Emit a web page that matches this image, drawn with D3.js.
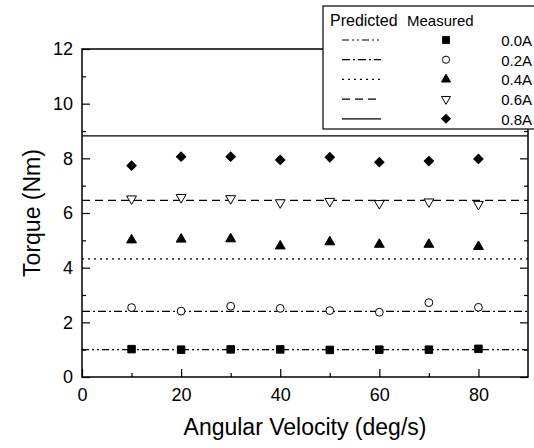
<!DOCTYPE html>
<html>
<head>
<meta charset="utf-8">
<script src="https://cdn.jsdelivr.net/npm/d3@7"></script>
<style>
  body { margin: 0; background: #fff; }
  text { font-family: "Liberation Sans", Arial, sans-serif; fill: #000; }
</style>
</head>
<body>
<div id="chart"></div>
<script>
var velocity = [10, 20, 30, 40, 50, 60, 70, 80]
var currents = ['0.0A', '0.2A', '0.4A', '0.6A', '0.8A']
var predicted = [1.0, 2.4, 4.32, 6.46, 8.82]
var measured00 = [1.02, 1.0, 1.01, 1.01, 0.99, 1.0, 1.0, 1.03]
var measured02 = [2.54, 2.41, 2.59, 2.51, 2.43, 2.37, 2.72, 2.55]
var measured04 = [5.01, 5.04, 5.05, 4.79, 4.94, 4.85, 4.85, 4.77]
var measured06 = [6.52, 6.57, 6.53, 6.38, 6.43, 6.35, 6.41, 6.32]
var measured08 = [7.73, 8.06, 8.06, 7.94, 8.04, 7.86, 7.90, 7.98]
var measured = [measured00, measured02, measured04, measured06, measured08]
var xTicks = [0, 20, 40, 60, 80]
var yTicks = [0, 2, 4, 6, 8, 10, 12]

var dashes = ['7 3 2 3 2 3', '8 3 2 3', '2 4', '8 5', null]
var marks = [
  {type: d3.symbolSquare, size: 56, rot: 0, fill: '#000'},
  {type: d3.symbolCircle, size: 48, rot: 0, fill: '#fff'},
  {type: d3.symbolTriangle, size: 42, rot: 0, fill: '#000'},
  {type: d3.symbolTriangle, size: 42, rot: 180, fill: '#fff'},
  {type: d3.symbolSquare, size: 44, rot: 45, fill: '#000'},
]

var W = 534, H = 448
var m = {left: 82, right: 6, top: 49, bottom: 71}
var width = W - m.left - m.right, height = H - m.top - m.bottom

var svg = d3.select('#chart').append('svg').attr('width', W).attr('height', H)
var g = svg.append('g').attr('transform', `translate(${m.left},${m.top})`)

var x = d3.scaleLinear().domain([0, 90]).range([0, width])
var y = d3.scaleLinear().domain([0, 12]).range([height, 0])

// predicted lines
g.selectAll('line.pred').data(predicted).join('line')
  .attr('x1', 0).attr('x2', width)
  .attr('y1', d => y(d)).attr('y2', d => y(d))
  .attr('stroke', '#000').attr('stroke-width', 1.2)
  .attr('stroke-dasharray', (d, i) => dashes[i])

// measured points
measured.forEach((series, i) => {
  var mk = marks[i]
  g.selectAll(null).data(series).join('path')
    .attr('d', d3.symbol(mk.type, mk.size))
    .attr('transform', (d, j) => `translate(${x(velocity[j])},${y(d)}) rotate(${mk.rot})`)
    .attr('fill', mk.fill).attr('stroke', '#000').attr('stroke-width', 1)
})

// axes, ticks inward
g.append('g').attr('transform', `translate(0,${height})`)
  .call(d3.axisBottom(x).tickValues(xTicks).tickSize(-8).tickPadding(11).tickFormat(d3.format('d')))
g.append('g').attr('transform', `translate(0,${height})`)
  .call(d3.axisBottom(x).tickValues(d3.range(10, 90, 20)).tickSize(-4).tickFormat(''))
g.append('g')
  .call(d3.axisLeft(y).tickValues(yTicks).tickSize(-8).tickPadding(9))
g.append('g')
  .call(d3.axisLeft(y).tickValues(d3.range(1, 12, 2)).tickSize(-4).tickFormat(''))
g.append('g').attr('transform', `translate(${width},0)`)
  .call(d3.axisRight(y).tickValues(yTicks).tickSize(-8).tickFormat(''))
g.append('g').attr('transform', `translate(${width},0)`)
  .call(d3.axisRight(y).tickValues(d3.range(1, 12, 2)).tickSize(-4).tickFormat(''))

g.selectAll('.domain').remove()
g.selectAll('.tick line').attr('stroke', '#000').attr('stroke-width', 1.2)
g.selectAll('.tick text').style('font-size', '18px').style('font-family', '"Liberation Sans", Arial, sans-serif')

g.append('rect').attr('width', width).attr('height', height)
  .attr('fill', 'none').attr('stroke', '#000').attr('stroke-width', 1.5)

// axis titles
svg.append('text').text('Angular Velocity (deg/s)')
  .attr('x', m.left + width / 2).attr('y', 435)
  .attr('text-anchor', 'middle').style('font-size', '23px')
svg.append('text').text('Torque (Nm)')
  .attr('transform', `translate(40,${m.top + height / 2}) rotate(-90)`)
  .attr('text-anchor', 'middle').style('font-size', '23px')

// legend
var leg = svg.append('g').attr('transform', 'translate(323,6)')
leg.append('rect').attr('width', 216).attr('height', 123)
  .attr('fill', '#fff').attr('stroke', '#000').attr('stroke-width', 1.2)
leg.append('text').text('Predicted').attr('x', 7).attr('y', 20).style('font-size', '16px')
leg.append('text').text('Measured').attr('x', 84).attr('y', 20).style('font-size', '15px')

var rows = leg.selectAll('g.row').data(currents).join('g')
  .attr('transform', (d, i) => `translate(0,${34 + i * 19.7})`)
rows.append('line').attr('x1', 19).attr('x2', 58)
  .attr('stroke', '#000').attr('stroke-width', 1.2)
  .attr('stroke-dasharray', (d, i) => dashes[i])
rows.append('path')
  .attr('d', (d, i) => d3.symbol(marks[i].type, marks[i].size * 0.85)())
  .attr('transform', (d, i) => `translate(123,0) rotate(${marks[i].rot})`)
  .attr('fill', (d, i) => marks[i].fill).attr('stroke', '#000')
rows.append('text').text(d => d)
  .attr('x', 209).attr('y', 6).attr('text-anchor', 'end').style('font-size', '15px')
</script>
</body>
</html>
